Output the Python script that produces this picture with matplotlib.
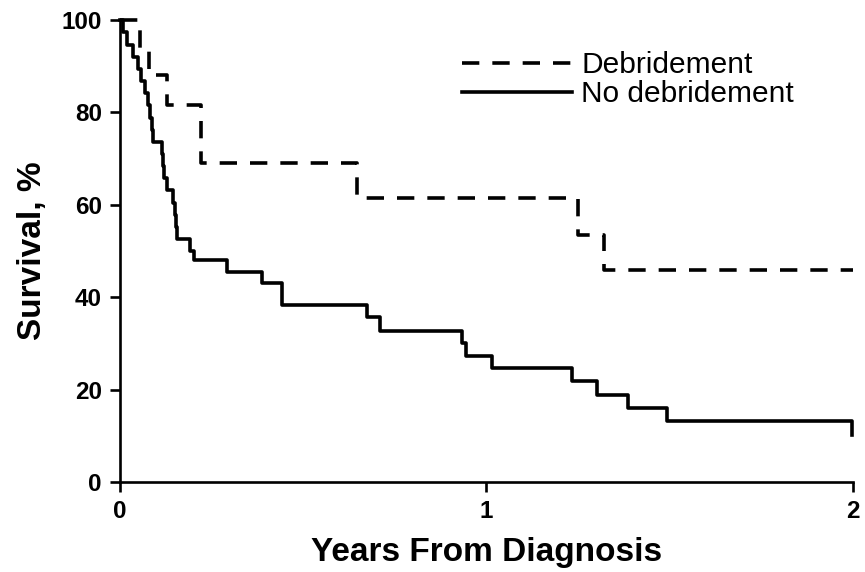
import matplotlib
matplotlib.use("Agg")
import matplotlib.pyplot as plt

plt.rcParams['font.family'] = ['Liberation Sans', 'DejaVu Sans']

# Kaplan-Meier steps, years from diagnosis vs survival %
deb_years = [0, 0.055, 0.078, 0.128, 0.221, 0.647, 1.25, 1.32, 2.0]
deb_surv = [100, 94, 88, 81.5, 69, 61.5, 53.5, 46, 46]

nodeb_years = [0, 0.008, 0.019, 0.035, 0.049, 0.057, 0.068, 0.076, 0.082,
               0.087, 0.089, 0.115, 0.117, 0.120, 0.128, 0.145, 0.150,
               0.153, 0.156, 0.191, 0.202, 0.292, 0.387, 0.442, 0.674,
               0.709, 0.933, 0.944, 1.015, 1.233, 1.301, 1.386, 1.493, 1.997]
nodeb_surv = [100, 97.4, 94.7, 92.1, 89.5, 86.8, 84.2, 81.6, 78.9,
              76.3, 73.7, 71.1, 68.4, 65.8, 63.2, 60.5, 57.9,
              55.3, 52.6, 50.0, 48.0, 45.5, 43.0, 38.3, 35.7,
              32.7, 30.0, 27.3, 24.7, 21.9, 18.8, 16.0, 13.2, 10.2]

xticks = [0, 1, 2]
yticks = [0, 20, 40, 60, 80, 100]

fig = plt.figure(figsize=(8.65, 5.72), dpi=100)
ax = fig.add_axes([0.1387, 0.1573, 0.8474, 0.8077])

lw = 2.6
ax.plot(deb_years, deb_surv, drawstyle='steps-post', color='black', lw=lw,
        linestyle=(0, (4.8, 3.6)), label='Debridement', clip_on=False)
ax.plot(nodeb_years, nodeb_surv, drawstyle='steps-post', color='black', lw=lw,
        label='No debridement', clip_on=False)

ax.set_xlim(0, 2)
ax.set_ylim(0, 100)
ax.set_xticks(xticks)
ax.set_yticks(yticks)
for s in ['top', 'right']:
    ax.spines[s].set_visible(False)
for s in ['left', 'bottom']:
    ax.spines[s].set_linewidth(1.9)
ax.tick_params(width=1.9, length=7, labelsize=17.5, pad=6)
for lab in ax.get_xticklabels() + ax.get_yticklabels():
    lab.set_fontweight('bold')

ax.set_xlabel('Years From Diagnosis', fontsize=24, fontweight='bold', labelpad=10)
ax.set_ylabel('Survival, %', fontsize=24, fontweight='bold', labelpad=10)

ax.legend(loc='upper left', bbox_to_anchor=(0.4666, 0.933), frameon=False,
          fontsize=21.5, handlelength=3.7, handletextpad=0.3,
          labelspacing=0.05, borderpad=0, borderaxespad=0)

fig.savefig('out.png', dpi=100)
